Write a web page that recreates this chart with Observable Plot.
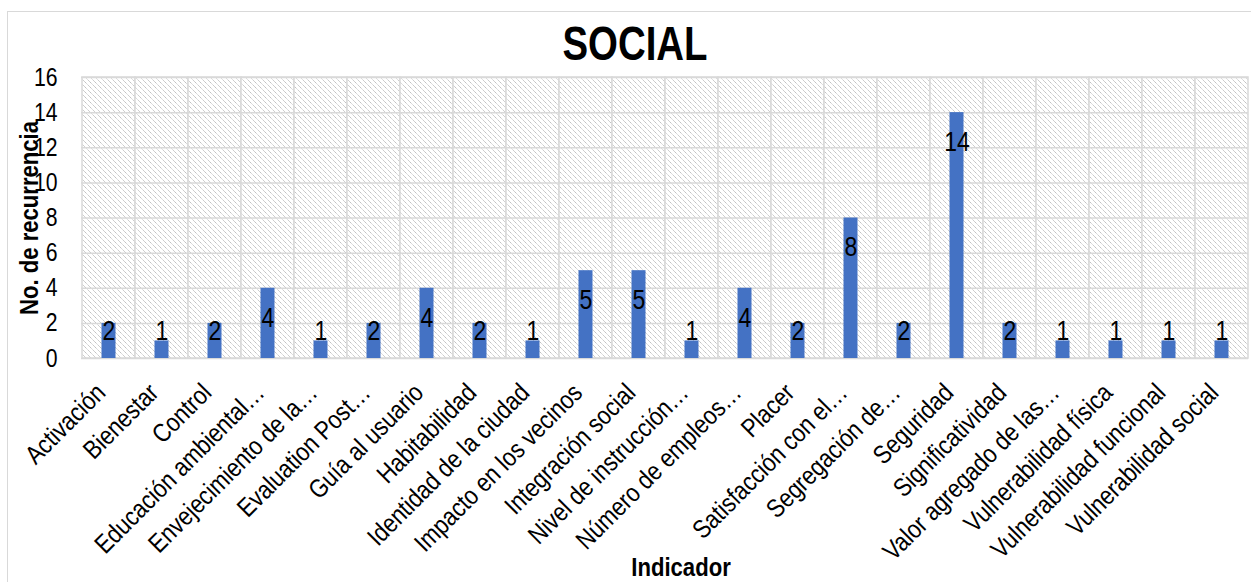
<!DOCTYPE html>
<html>
<head>
<meta charset="utf-8">
<script src="https://cdn.jsdelivr.net/npm/d3@7"></script>
<script src="https://cdn.jsdelivr.net/npm/@observablehq/plot@0.6"></script>
<style>
  html, body { margin: 0; padding: 0; background: #fff; }
  body { width: 1251px; height: 582px; position: relative; overflow: hidden;
         font-family: "Liberation Sans", Arial, sans-serif; }
  #frame { position: absolute; left: 7px; top: 11px; width: 1260px; height: 600px;
           border: 1.5px solid #d9d9d9; box-sizing: border-box; }
  #title { position: absolute; left: 0; width: 1270px; top: 16px; text-align: center;
           font-weight: bold; font-size: 48px; line-height: 56px; color: #000;
           transform: scaleX(0.8); transform-origin: 635px 0; }
  #chart { position: absolute; left: 0; top: 57px; }
</style>
</head>
<body>
<div id="frame"></div>
<div id="title">SOCIAL</div>
<div id="chart"></div>
<script>
// Indicadores sociales y número de recurrencias
const indicadores = [
  "Activación", "Bienestar", "Control", "Educación ambiental…",
  "Envejecimiento de la…", "Evaluation Post…", "Guía al usuario", "Habitabilidad",
  "Identidad de la ciudad", "Impacto en los vecinos", "Integración social",
  "Nivel de instrucción…", "Número de empleos…", "Placer", "Satisfacción con el…",
  "Segregación de…", "Seguridad", "Significatividad", "Valor agregado de las…",
  "Vulnerabilidad física", "Vulnerabilidad funcional", "Vulnerabilidad social"
];
const recurrencias = [2, 1, 2, 4, 1, 2, 4, 2, 1, 5, 5, 1, 4, 2, 8, 2, 14, 2, 1, 1, 1, 1];
const yTicks = [0, 2, 4, 6, 8, 10, 12, 14, 16];

const data = indicadores.map((indicador, i) => ({indicador, valor: recurrencias[i]}));
const font = '"Liberation Sans", Arial, sans-serif';
const grid = "#d9d9d9";

const plot = Plot.plot({
  width: 1251,
  height: 525,
  marginTop: 20,
  marginBottom: 224,
  marginLeft: 81,
  marginRight: 3,
  style: {fontFamily: font, color: "#000", background: "transparent"},
  x: {type: "band", domain: indicadores, padding: 0},
  y: {domain: [0, 16]},
  marks: [
    // hatched background cells, one per category, outlined as vertical grid
    Plot.barY(indicadores, {x: d => d, y1: 0, y2: 16, fill: "url(#hatch)", stroke: grid, strokeWidth: 1.5}),
    Plot.ruleY(yTicks, {stroke: grid, strokeWidth: 1.5}),
    Plot.barY(data, {x: "indicador", y: "valor", fill: "#4472C4", insetLeft: 19.5, insetRight: 19.5}),
    // value labels sit inside the bar end, kept above the baseline for short bars
    Plot.text(data, {
      x: "indicador",
      y: d => Math.max(d.valor - 1.7, 1.55),
      text: d => String(d.valor),
      fontSize: 27,
      fill: "#000"
    }),
    Plot.axisY({ticks: yTicks, tickSize: 0, tickPadding: 24, fontSize: 25, label: null}),
    Plot.axisX({tickRotate: -45, tickSize: 0, tickPadding: 30, dx: -8, fontSize: 26, label: null}),
    Plot.text(["No. de recurrencia"], {
      frameAnchor: "left", textAnchor: "middle", lineAnchor: "middle", dx: -52, rotate: -90,
      fontSize: 26, fontWeight: "bold", fill: "#000"
    }),
    Plot.text(["Indicador"], {
      frameAnchor: "bottom", textAnchor: "middle", lineAnchor: "middle", dx: 16, dy: 209,
      fontSize: 26, fontWeight: "bold", fill: "#000"
    })
  ]
});

// diagonal hatch used by the plot background
const svg = d3.select(plot);
const defs = svg.insert("defs", ":first-child");
const pat = defs.append("pattern")
  .attr("id", "hatch")
  .attr("patternUnits", "userSpaceOnUse")
  .attr("width", 5).attr("height", 5);
pat.append("rect").attr("width", 5).attr("height", 5).attr("fill", "#fff");
pat.append("path")
  .attr("d", "M0,0L5,5M-1,4L1,6M4,-1L6,1")
  .attr("stroke", "#c0c0c0").attr("stroke-width", 1).attr("stroke-dasharray", "1.4,0.6");

document.getElementById("chart").appendChild(plot);

// narrow lettering: compress every label horizontally
svg.selectAll("text").each(function() {
  const len = this.getComputedTextLength();
  if (len > 0) {
    this.setAttribute("textLength", (len * 0.85).toFixed(1));
    this.setAttribute("lengthAdjust", "spacingAndGlyphs");
  }
});
</script>
</body>
</html>
